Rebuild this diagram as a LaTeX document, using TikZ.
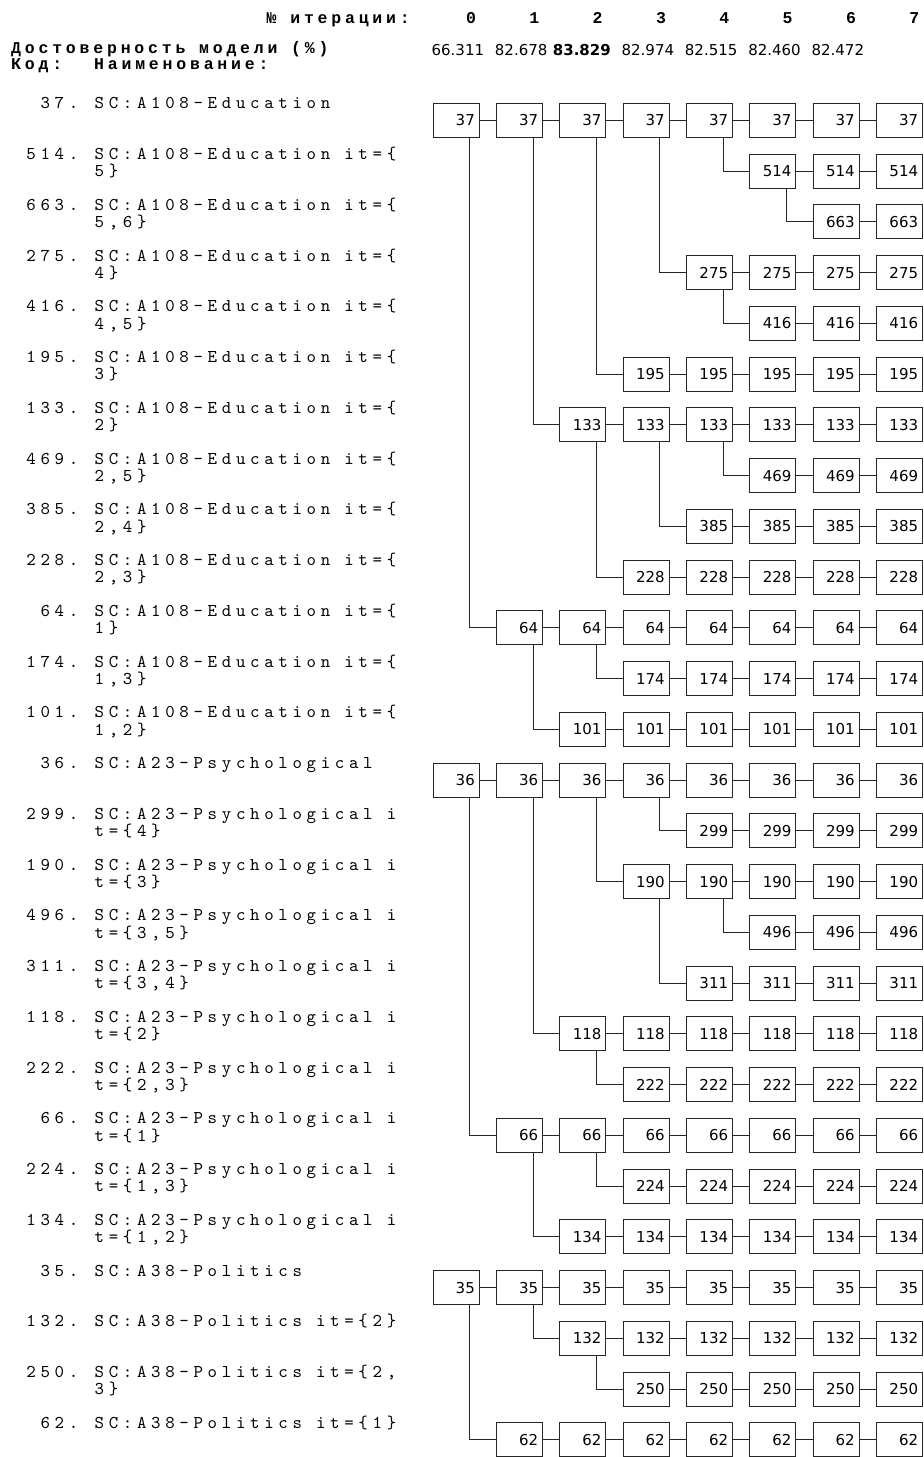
\documentclass[tikz,border=0pt]{standalone}
\usepackage{fontspec}
\newfontfamily\monof[LetterSpace=23]{Liberation Mono}
\newfontfamily\sansf{DejaVu Sans}
\newfontfamily\lmmono{lmmono10-regular}[Extension=.otf,LetterSpace=26]
\begin{document}
\begin{tikzpicture}[x=1pt,y=-1pt,
  box/.style={draw=black!85, line width=1pt, minimum width=46pt, minimum height=34pt,
    inner ysep=0pt, inner xsep=4.5pt, text width=37pt, align=right,
    font=\sansf\fontsize{15}{18}\selectfont},
  conn/.style={draw=black!85, line width=1pt},
  lab/.style={inner sep=0pt, font=\lmmono\fontsize{18}{17.4}\selectfont},
  hb/.style={inner sep=0pt, font=\monof\bfseries\fontsize{16.5}{17.4}\selectfont},
  acc/.style={inner sep=0pt, font=\sansf\fontsize{15}{18}\selectfont}]
\useasboundingbox (0,0) rectangle (924,1457);
% header
\node[hb, anchor=base east] (iterh) at (410,23.3) {№ итерации:};
\foreach \k in {0,...,7}{
  \node[hb, anchor=base] (col\k) at ({471+63.33*\k},23.3) {\k};
}
\node[hb, anchor=base west] (acch) at (11,53) {Достоверность модели (\%)};
\node[hb, anchor=base west] (codeh) at (11,69.5) {Код:};
\node[hb, anchor=base west] (nameh) at (94,69.5) {Наименование:};
\foreach \k/\v in {0/66.311,1/82.678,2/\textbf{83.829},3/82.974,4/82.515,5/82.460,6/82.472}{
  \node[acc, anchor=base east] (acc\k) at ({484.3+63.33*\k},55.5) {\v};
}
% rows
\foreach \r/\n/\s/\p/\ltA/\ltB in {
  0/37/0/-1/{SC:A108-Education}/{},
  1/514/5/0/{SC:A108-Education it=\{}/{5\}},
  2/663/6/1/{SC:A108-Education it=\{}/{5,6\}},
  3/275/4/0/{SC:A108-Education it=\{}/{4\}},
  4/416/5/3/{SC:A108-Education it=\{}/{4,5\}},
  5/195/3/0/{SC:A108-Education it=\{}/{3\}},
  6/133/2/0/{SC:A108-Education it=\{}/{2\}},
  7/469/5/6/{SC:A108-Education it=\{}/{2,5\}},
  8/385/4/6/{SC:A108-Education it=\{}/{2,4\}},
  9/228/3/6/{SC:A108-Education it=\{}/{2,3\}},
  10/64/1/0/{SC:A108-Education it=\{}/{1\}},
  11/174/3/10/{SC:A108-Education it=\{}/{1,3\}},
  12/101/2/10/{SC:A108-Education it=\{}/{1,2\}},
  13/36/0/-1/{SC:A23-Psychological}/{},
  14/299/4/13/{SC:A23-Psychological i}/{t=\{4\}},
  15/190/3/13/{SC:A23-Psychological i}/{t=\{3\}},
  16/496/5/15/{SC:A23-Psychological i}/{t=\{3,5\}},
  17/311/4/15/{SC:A23-Psychological i}/{t=\{3,4\}},
  18/118/2/13/{SC:A23-Psychological i}/{t=\{2\}},
  19/222/3/18/{SC:A23-Psychological i}/{t=\{2,3\}},
  20/66/1/13/{SC:A23-Psychological i}/{t=\{1\}},
  21/224/3/20/{SC:A23-Psychological i}/{t=\{1,3\}},
  22/134/2/20/{SC:A23-Psychological i}/{t=\{1,2\}},
  23/35/0/-1/{SC:A38-Politics}/{},
  24/132/2/23/{SC:A38-Politics it=\{2\}}/{},
  25/250/3/24/{SC:A38-Politics it=\{2,}/{3\}},
  26/62/1/23/{SC:A38-Politics it=\{1\}}/{}}{
  \pgfmathsetmacro\yc{120.3+50.75*\r}
  \pgfmathsetmacro\yb{\yc-11.5}
  \node[lab, anchor=base east] (num\r) at (78.5,\yb) {\n.};
  \node[lab, anchor=base west] (name\r) at (94.5,\yb) {\ltA};
  \ifx\ltB\empty\else
    \node[lab, anchor=base west] (cont\r) at (94.5,\yb+17.4) {\ltB};
  \fi
  \foreach \c in {\s,...,7}{
    \node[box] (b\r-\c) at ({456.3+63.33*\c},\yc) {\n};
  }
  \foreach \c in {\s,...,6}{
    \pgfmathtruncatemacro\d{\c+1}
    \draw[conn] (b\r-\c.east) -- (b\r-\d.west);
  }
  \ifnum\p>-1
    \pgfmathtruncatemacro\pc{\s-1}
    \draw[conn] ([xshift=-10pt]b\p-\pc.south east) |- (b\r-\s.west);
  \fi
}
\end{tikzpicture}
\end{document}
